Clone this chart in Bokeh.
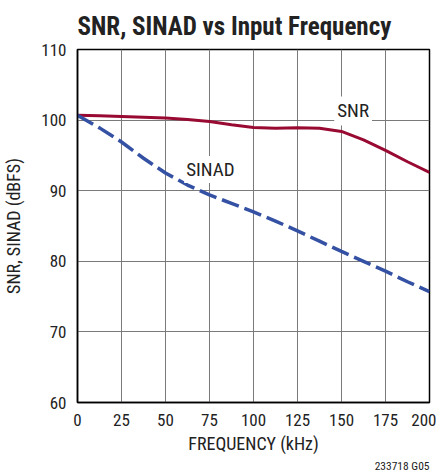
from bokeh.plotting import figure
from bokeh.models import Label, Range1d, FixedTicker, Title
from bokeh.embed import file_html
from bokeh.resources import INLINE

FONT = "'Roboto Condensed', 'Liberation Sans Narrow', Roboto, sans-serif"

freq_khz = [0, 12.5, 25, 37.5, 50, 62.5, 75, 87.5, 100, 112.5, 125, 137.5, 150, 162.5, 175, 187.5, 200]
snr_dbfs = [100.7, 100.6, 100.5, 100.4, 100.3, 100.1, 99.8, 99.35, 98.95, 98.85, 98.9, 98.85, 98.4, 97.2, 95.7, 94.1, 92.6]
sinad_dbfs = [100.7, 98.9, 96.9, 94.6, 92.5, 90.8, 89.4, 88.2, 87.0, 85.7, 84.3, 82.85, 81.4, 80.0, 78.6, 77.1, 75.7]
x_ticks = [0, 25, 50, 75, 100, 125, 150, 175, 200]
y_ticks = [60, 70, 80, 90, 100, 110]

p = figure(frame_width=352, frame_height=353, output_backend="svg", toolbar_location=None,
           x_range=Range1d(0, 200), y_range=Range1d(60, 110),
           min_border_left=70, min_border_right=7, min_border_top=41, min_border_bottom=56)

p.title.text = "SNR, SINAD vs Input Frequency"
p.title.text_font = FONT
p.title.text_font_size = "25px"
p.title.text_font_style = "bold"
p.title.text_color = "#222222"
p.title.align = "left"
p.title.offset = 0
p.title.standoff = 18

p.outline_line_color = "black"
p.outline_line_width = 1.5
p.background_fill_color = "white"
p.border_fill_color = "white"

for ax in (p.xaxis[0], p.yaxis[0]):
    ax.major_tick_line_color = None
    ax.minor_tick_line_color = None
    ax.major_tick_out = 0
    ax.major_tick_in = 0
    ax.axis_line_color = "black"
    ax.axis_line_width = 1.5
    ax.major_label_text_font = FONT
    ax.major_label_text_font_size = "17px"
    ax.major_label_text_color = "#222222"
    ax.axis_label_text_font = FONT
    ax.axis_label_text_font_size = "18px"
    ax.axis_label_text_font_style = "normal"
    ax.axis_label_text_color = "#222222"

p.xaxis.ticker = FixedTicker(ticks=x_ticks)
p.yaxis.ticker = FixedTicker(ticks=y_ticks)
p.xaxis.axis_label = "FREQUENCY (kHz)"
p.yaxis.axis_label = "SNR, SINAD (dBFS)"
p.xaxis.major_label_standoff = 11
p.yaxis.major_label_standoff = 11
p.xaxis.axis_label_standoff = 4
p.yaxis.axis_label_standoff = 14

p.xgrid.ticker = FixedTicker(ticks=x_ticks)
p.ygrid.ticker = FixedTicker(ticks=y_ticks)
p.grid.grid_line_color = "#7a7a7a"
p.grid.grid_line_width = 1

p.line(freq_khz, snr_dbfs, line_color="#990a33", line_width=3)
p.line(freq_khz, sinad_dbfs, line_color="#3451a3", line_width=3.5, line_dash="18 6")

p.add_layout(Label(x=156.6, y=101.3, text="SNR", text_align="center", text_baseline="middle",
                   text_font=FONT, text_font_size="19px", text_color="#222222",
                   background_fill_color="white", padding=3))
p.add_layout(Label(x=75.5, y=93.0, text="SINAD", text_align="center", text_baseline="middle",
                   text_font=FONT, text_font_size="19px", text_color="#222222",
                   background_fill_color="white", padding=2))
p.add_layout(Title(text="233718 G05", align="right", text_font=FONT, text_font_size="11.5px",
                   text_font_style="normal", text_color="#222222", standoff=1), "below")

open("out.html", "w").write(file_html(p, INLINE))
